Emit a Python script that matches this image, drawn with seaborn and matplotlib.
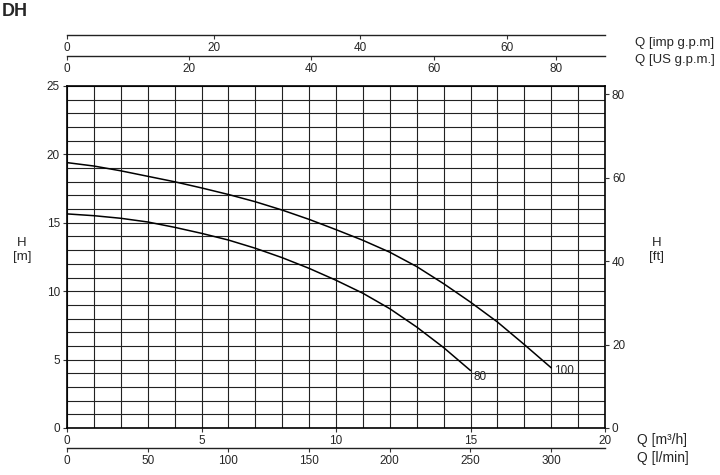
import matplotlib
matplotlib.use('Agg')
from matplotlib import pyplot as plt
from matplotlib.ticker import MultipleLocator
import seaborn as sns

# flow in m3/h and head in m
q_100 = [0, 1, 2, 3, 4, 5, 6, 7, 8, 9, 10, 11, 12, 13, 14, 15, 16, 17, 18]
h_100 = [19.4, 19.15, 18.8, 18.4, 18.0, 17.55, 17.07, 16.54, 15.93, 15.25,
         14.5, 13.72, 12.85, 11.8, 10.55, 9.2, 7.75, 6.1, 4.4]
q_80 = [0, 1, 2, 3, 4, 5, 6, 7, 8, 9, 10, 11, 12, 13, 14, 15]
h_80 = [15.65, 15.52, 15.33, 15.06, 14.67, 14.23, 13.74, 13.14, 12.45, 11.67,
        10.8, 9.85, 8.72, 7.38, 5.88, 4.2]
curve_names = ['100', '80']

# unit conversions from m3/h / m
imp_gpm = 3.6662
us_gpm = 4.4029
l_min = 16.6667
ft = 3.28084

sns.set_style('white')
plt.rcParams['font.family'] = ['Liberation Sans', 'DejaVu Sans']
plt.rcParams['font.size'] = 8.5

W, H = 720, 475
fig = plt.figure(figsize=(7.2, 4.75), dpi=100)

def px_box(x0, y0, x1, y1):
    return [x0 / W, 1 - y1 / H, (x1 - x0) / W, (y1 - y0) / H]

ax = fig.add_axes(px_box(67, 86, 605, 428))
sns.lineplot(x=q_100, y=h_100, ax=ax, color='k', lw=1.1)
sns.lineplot(x=q_80, y=h_80, ax=ax, color='k', lw=1.1)
ax.text(q_100[-1] + 0.12, h_100[-1] - 0.2, curve_names[0], fontsize=8.5, va='center')
ax.text(q_80[-1] + 0.12, h_80[-1] - 0.5, curve_names[1], fontsize=8.5, va='center')

ax.set_xlim(0, 20)
ax.set_ylim(0, 25)
ax.set_xticks([0, 5, 10, 15, 20])
ax.set_yticks([0, 5, 10, 15, 20, 25])
ax.xaxis.set_minor_locator(MultipleLocator(1))
ax.yaxis.set_minor_locator(MultipleLocator(1))
ax.grid(which='both', color='#222222', lw=0.8)
ax.tick_params(which='major', direction='out', length=3, width=0.8,
               color='#333333', labelsize=8.5, pad=2, bottom=True, left=True)
ax.tick_params(which='minor', length=0)
ax.set_xlabel('')
ax.set_ylabel('')
for s in ax.spines.values():
    s.set_color('k')
    s.set_linewidth(1.2)

ax2 = ax.twinx()
ax2.set_ylim(0, 25 * ft)
ax2.set_yticks([0, 20, 40, 60, 80])
ax2.grid(False)
ax2.tick_params(direction='out', length=3, width=0.8, color='#333333',
                labelsize=8.5, pad=2, right=True)
for s in ax2.spines.values():
    s.set_visible(False)

def unit_axis(y, vmax, ticks):
    a = fig.add_axes(px_box(67, y - 1, 605, y))
    a.patch.set_alpha(0)
    for k in ['left', 'right', 'top']:
        a.spines[k].set_visible(False)
    a.spines['bottom'].set_color('#222222')
    a.spines['bottom'].set_linewidth(1.0)
    a.set_xlim(0, vmax)
    a.set_xticks(ticks)
    a.set_yticks([])
    a.tick_params(axis='x', direction='out', length=3, width=0.8,
                  color='#333333', labelsize=8.5, pad=2, bottom=True)
    return a

unit_axis(35, 20 * imp_gpm, [0, 20, 40, 60])
unit_axis(56, 20 * us_gpm, [0, 20, 40, 60, 80])
unit_axis(448, 20 * l_min, [0, 50, 100, 150, 200, 250, 300])

fig.text(635 / W, 1 - 43 / H, 'Q [imp g.p.m]', fontsize=9.5, va='center')
fig.text(635 / W, 1 - 60 / H, 'Q [US g.p.m.]', fontsize=9.5, va='center')
fig.text(637 / W, 1 - 440 / H, 'Q [m³/h]', fontsize=10, va='center')
fig.text(637 / W, 1 - 458 / H, 'Q [l/min]', fontsize=10, va='center')
fig.text(22 / W, 1 - 250 / H, 'H\n[m]', fontsize=9.5, ha='center', va='center')
fig.text(657 / W, 1 - 250 / H, 'H\n[ft]', fontsize=9.5, ha='center', va='center')
fig.text(2 / W, 1 - 12 / H, 'DH', fontsize=13, fontweight='bold', va='center')

fig.savefig('out.png', dpi=100)
